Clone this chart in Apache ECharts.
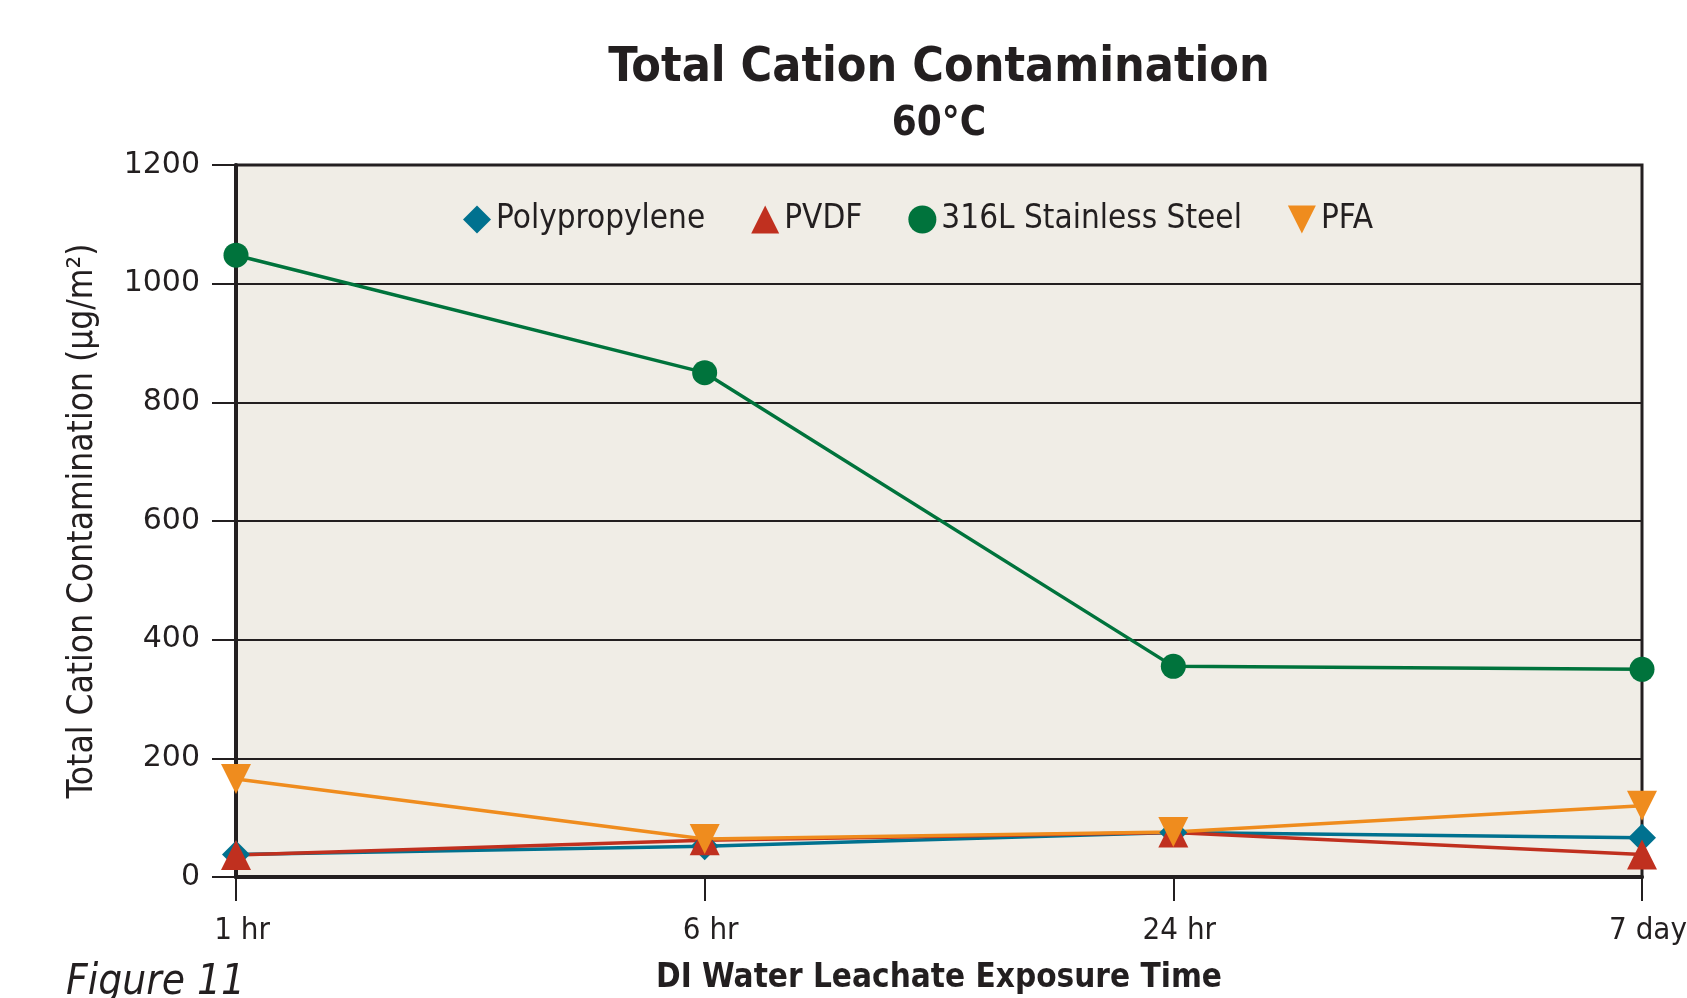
<!DOCTYPE html>
<html>
<head>
<meta charset="utf-8">
<script src="https://cdn.jsdelivr.net/npm/echarts@6/dist/echarts.min.js"></script>
<style>
  html, body { margin: 0; padding: 0; background: #fff; }
  #chart { width: 1687px; height: 998px; }
</style>
</head>
<body>
<div id="chart"></div>
<script>
  // data
  var times = ['1 hr', '6 hr', '24 hr', '7 day'];
  var seriesNames = ['Polypropylene', 'PVDF', '316L Stainless Steel', 'PFA'];
  var polypropylene = [38, 52, 75, 66];
  var pvdf = [37, 62, 75, 38];
  var stainless = [1048, 850, 355, 350];
  var pfa = [165, 64, 76, 120];
  var yTicks = [0, 200, 400, 600, 800, 1000, 1200];

  var narrow = "'Liberation Sans Narrow', 'DejaVu Sans Condensed', 'Arial Narrow', sans-serif";
  var ink = '#231f20';
  var colors = ['#00718f', '#c0301f', '#00733c', '#ef8c1e'];
  var downTri = 'path://M0,0 L10,0 L5,10 Z';

  var chart = echarts.init(document.getElementById('chart'));

  var mkLine = function (name, data, color, symbol, size) {
    return {
      name: name,
      type: 'line',
      data: data,
      symbol: symbol,
      symbolSize: size,
      lineStyle: { color: color, width: 3.5 },
      itemStyle: { color: color },
      z: 3
    };
  };

  var option = {
    animation: false,
    backgroundColor: '#ffffff',
    color: colors,
    title: {
      text: 'Total Cation Contamination',
      subtext: '60°C',
      left: 934,
      top: 40,
      textAlign: 'center',
      itemGap: 12,
      textStyle: { fontFamily: narrow, fontSize: 48, fontWeight: 'bold', color: ink },
      subtextStyle: { fontFamily: narrow, fontSize: 40, fontWeight: 'bold', color: ink }
    },
    legend: {
      top: 198,
      left: 458,
      itemGap: 46,
      itemWidth: 28,
      itemHeight: 28,
      textStyle: { fontFamily: narrow, fontSize: 33, color: ink },
      data: [
        { name: seriesNames[0], icon: 'diamond' },
        { name: seriesNames[1], icon: 'triangle' },
        { name: seriesNames[2], icon: 'circle' },
        { name: seriesNames[3], icon: downTri }
      ]
    },
    grid: {
      left: 236,
      right: 45,
      top: 165,
      bottom: 121,
      outerBoundsMode: 'none',
      show: true,
      backgroundColor: '#f0ede6',
      borderColor: ink,
      borderWidth: 3
    },
    xAxis: {
      type: 'category',
      data: times,
      boundaryGap: false,
      name: 'DI Water Leachate Exposure Time',
      nameLocation: 'middle',
      nameGap: 85,
      nameTextStyle: { fontFamily: narrow, fontSize: 33, fontWeight: 'bold', color: ink },
      axisLine: { lineStyle: { color: ink, width: 4 } },
      axisTick: { show: true, alignWithLabel: true, length: 24, lineStyle: { color: ink, width: 2 } },
      axisLabel: {
        fontFamily: narrow, fontSize: 31, color: ink, margin: 38,
        padding: [0, 0, 0, 12]
      }
    },
    yAxis: {
      type: 'value',
      min: 0,
      max: 1200,
      interval: 200,
      name: 'Total Cation Contamination (µg/m²)',
      nameLocation: 'middle',
      nameGap: 136,
      nameTextStyle: { fontFamily: narrow, fontSize: 35, color: ink },
      axisLine: { show: true, lineStyle: { color: ink, width: 4 } },
      axisTick: { show: true, length: 24, lineStyle: { color: ink, width: 2 } },
      splitLine: { show: true, lineStyle: { color: ink, width: 2 } },
      axisLabel: {
        fontFamily: "'DejaVu Sans', sans-serif", fontSize: 30, color: ink, margin: 36,
        formatter: function (v) { return yTicks.indexOf(v) >= 0 ? String(v) : ''; }
      }
    },
    series: [
      mkLine(seriesNames[0], polypropylene, colors[0], 'diamond', 28),
      mkLine(seriesNames[1], pvdf, colors[1], 'triangle', 30),
      mkLine(seriesNames[2], stainless, colors[2], 'circle', 25),
      mkLine(seriesNames[3], pfa, colors[3], downTri, 30)
    ],
    graphic: [
      {
        type: 'text',
        left: 66,
        top: 962,
        style: {
          text: 'Figure 11',
          font: "italic 42px " + narrow,
          fill: ink
        }
      }
    ]
  };

  chart.setOption(option);
</script>
</body>
</html>
